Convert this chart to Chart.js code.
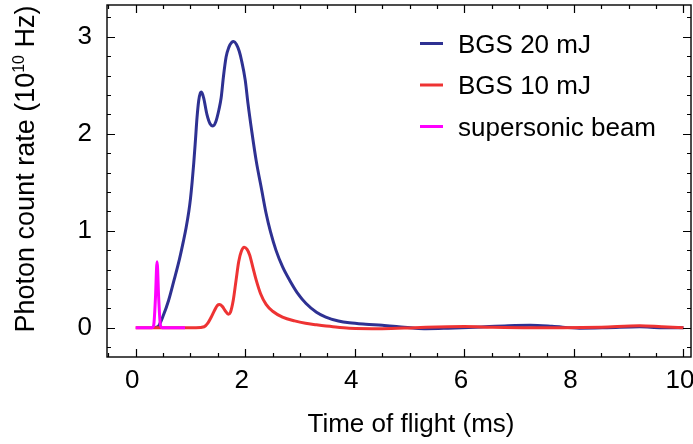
<!DOCTYPE html>
<html>
<head>
<meta charset="utf-8">
<script src="https://cdn.jsdelivr.net/npm/chart.js@4/dist/chart.umd.min.js"></script>
<style>
html,body{margin:0;padding:0;background:#fff;}
#c{display:block;}
</style>
</head>
<body>
<canvas id="c" width="693" height="444"></canvas>
<script>
// ---- data ----
const seriesLabels = ['BGS 20 mJ', 'BGS 10 mJ', 'supersonic beam'];
const seriesColors = ['#2e3192', '#ee3333', '#ff00ff'];

const time20 = [0.35, 0.42, 0.5, 0.6, 0.7, 0.8, 0.87, 0.92, 0.97, 1.0, 1.03, 1.06, 1.09, 1.12, 1.15, 1.18, 1.2, 1.24, 1.3, 1.36, 1.41, 1.46, 1.52, 1.56, 1.6, 1.65, 1.7, 1.75, 1.79, 1.84, 1.89, 1.93, 2.0, 2.05, 2.12, 2.2, 2.3, 2.38, 2.46, 2.56, 2.68, 2.81, 2.95, 3.11, 3.3, 3.47, 3.7, 3.9, 4.2, 4.5, 4.8, 5.1, 5.3, 5.7, 6.2, 6.8, 7.2, 7.6, 8.1, 8.6, 9.2, 9.6, 10.0];
const rate20 = [0, 0.02, 0.12, 0.28, 0.49, 0.71, 0.89, 1.03, 1.2, 1.33, 1.5, 1.7, 1.93, 2.17, 2.34, 2.42, 2.43, 2.37, 2.2, 2.1, 2.08, 2.12, 2.25, 2.37, 2.58, 2.79, 2.89, 2.94, 2.95, 2.92, 2.85, 2.76, 2.55, 2.31, 2.02, 1.72, 1.42, 1.18, 0.99, 0.8, 0.63, 0.49, 0.36, 0.25, 0.16, 0.11, 0.07, 0.05, 0.035, 0.025, 0.01, -0.005, -0.01, -0.005, 0.005, 0.02, 0.025, 0.015, -0.005, 0.0, 0.01, 0.0, 0.0];

const time10 = [0, 1.1, 1.25, 1.32, 1.38, 1.44, 1.49, 1.53, 1.58, 1.64, 1.69, 1.73, 1.78, 1.83, 1.88, 1.93, 1.98, 2.03, 2.08, 2.14, 2.2, 2.28, 2.38, 2.5, 2.68, 2.9, 3.1, 3.3, 3.6, 3.9, 4.5, 5.1, 5.7, 6.0, 6.5, 7.2, 7.8, 8.5, 9.2, 9.6, 10.0];
const rate10 = [0, 0, 0.01, 0.05, 0.11, 0.18, 0.23, 0.24, 0.22, 0.17, 0.14, 0.16, 0.28, 0.48, 0.68, 0.79, 0.83, 0.81, 0.75, 0.62, 0.49, 0.35, 0.24, 0.17, 0.11, 0.07, 0.045, 0.03, 0.01, -0.005, -0.01, 0, 0.01, 0.012, 0.005, 0, 0, 0.005, 0.02, 0.01, 0];

const timeBeam = [0, 0.3, 0.33, 0.36, 0.39, 0.42, 0.45, 0.48, 0.9];
const rateBeam = [0, 0, 0.03, 0.3, 0.68, 0.3, 0.03, 0, 0];

const xTickValues = [0, 2, 4, 6, 8, 10];
const yTickValues = [0, 1, 2, 3];
const xTitle = 'Time of flight (ms)';
const yTitleMain = 'Photon count rate (10';
const yTitleSup = '10';
const yTitleEnd = ' Hz)';

// ---- styling ----
const FONT = "'Liberation Sans', Arial, Helvetica, sans-serif";
const xMinorStep = 0.5, yMinorStep = 0.2;

const toPoints = (xs, ys) => xs.map((x, i) => ({x: x, y: ys[i]}));

const frameTicks = {
  id: 'frameTicks',
  afterDatasetsDraw(chart) {
    const {ctx, chartArea: a, scales: {x, y}} = chart;
    ctx.save();
    ctx.strokeStyle = '#000';
    ctx.lineWidth = 1.4;
    ctx.strokeRect(a.left, a.top, a.right - a.left, a.bottom - a.top);
    ctx.lineWidth = 1.2;
    const nx = Math.round((x.max - x.min) / xMinorStep) + 2;
    for (let k = -2; k < nx; k++) {
      const v = k * xMinorStep;
      if (v < x.min || v > x.max) continue;
      const p = Math.round(x.getPixelForValue(v)) + 0.5;
      const major = Math.abs(v / 2 - Math.round(v / 2)) < 1e-6;
      const len = major ? 8 : 4;
      ctx.beginPath();
      ctx.moveTo(p, a.bottom); ctx.lineTo(p, a.bottom - len);
      ctx.moveTo(p, a.top); ctx.lineTo(p, a.top + len);
      ctx.stroke();
    }
    const ny = Math.round((y.max - y.min) / yMinorStep) + 4;
    for (let k = -3; k < ny; k++) {
      const v = k * yMinorStep;
      if (v < y.min || v > y.max) continue;
      const p = Math.round(y.getPixelForValue(v)) + 0.5;
      const major = Math.abs(v - Math.round(v)) < 1e-6;
      const len = major ? 8 : 4;
      ctx.beginPath();
      ctx.moveTo(a.left, p); ctx.lineTo(a.left + len, p);
      ctx.moveTo(a.right, p); ctx.lineTo(a.right - len, p);
      ctx.stroke();
    }
    ctx.restore();
  }
};

const legendBox = {
  id: 'legendBox',
  afterDraw(chart) {
    const {ctx} = chart;
    ctx.save();
    ctx.font = '26px ' + FONT;
    ctx.textAlign = 'left';
    ctx.textBaseline = 'alphabetic';
    chart.data.datasets.forEach((ds, i) => {
      const cy = 43.5 + i * 41.5;
      ctx.strokeStyle = ds.borderColor;
      ctx.lineWidth = 3;
      ctx.beginPath();
      ctx.moveTo(420, cy); ctx.lineTo(443, cy);
      ctx.stroke();
      ctx.fillStyle = '#000';
      ctx.fillText(ds.label, 458, cy + 9.3);
    });
    ctx.restore();
  }
};

const axisTitles = {
  id: 'axisTitles',
  afterDraw(chart) {
    const {ctx} = chart;
    ctx.save();
    ctx.fillStyle = '#000';
    ctx.textBaseline = 'alphabetic';
    // x title
    ctx.font = '26px ' + FONT;
    ctx.textAlign = 'center';
    ctx.fillText(xTitle, 411, 432);
    // y title with superscript
    ctx.textAlign = 'left';
    const big = '27px ' + FONT, small = '16px ' + FONT;
    ctx.font = big;
    const w1 = ctx.measureText(yTitleMain).width;
    const w3 = ctx.measureText(yTitleEnd).width;
    ctx.font = small;
    const w2 = ctx.measureText(yTitleSup).width;
    const total = w1 + w2 + w3;
    ctx.translate(34, 169);
    ctx.rotate(-Math.PI / 2);
    const x0 = -total / 2;
    ctx.font = big;
    ctx.fillText(yTitleMain, x0, 0);
    ctx.font = small;
    ctx.fillText(yTitleSup, x0 + w1, -10);
    ctx.font = big;
    ctx.fillText(yTitleEnd, x0 + w1 + w2, 0);
    ctx.restore();
  }
};

new Chart(document.getElementById('c'), {
  type: 'line',
  data: {
    datasets: [
      {label: seriesLabels[0], data: toPoints(time20, rate20), borderColor: seriesColors[0], order: 3},
      {label: seriesLabels[1], data: toPoints(time10, rate10), borderColor: seriesColors[1], order: 2},
      {label: seriesLabels[2], data: toPoints(timeBeam, rateBeam), borderColor: seriesColors[2], order: 1}
    ]
  },
  options: {
    responsive: false,
    animation: false,
    devicePixelRatio: 1,
    layout: {padding: {top: 5, right: 2, left: 0, bottom: 0}},
    plugins: {legend: {display: false}, tooltip: {enabled: false}},
    elements: {
      point: {radius: 0},
      line: {borderWidth: 3, cubicInterpolationMode: 'monotone', fill: false}
    },
    scales: {
      x: {
        type: 'linear',
        min: -0.524, max: 10.137,
        afterBuildTicks: s => { s.ticks = xTickValues.map(v => ({value: v})); },
        afterFit: s => { s.height = 87; s.paddingLeft = 0; s.paddingRight = 0; },
        grid: {display: false, drawTicks: false},
        border: {display: false},
        ticks: {color: '#000', font: {family: FONT, size: 26}, padding: 8, labelOffset: -3.5, maxRotation: 0, autoSkip: false},
        title: {display: false, text: xTitle}
      },
      y: {
        type: 'linear',
        min: -0.302, max: 3.327,
        afterBuildTicks: s => { s.ticks = yTickValues.map(v => ({value: v})); },
        afterFit: s => { s.width = 107; s.paddingTop = 0; s.paddingBottom = 0; },
        grid: {display: false, drawTicks: false},
        border: {display: false},
        ticks: {color: '#000', font: {family: FONT, size: 26}, padding: 15, autoSkip: false}
      }
    }
  },
  plugins: [frameTicks, legendBox, axisTitles]
});
</script>
</body>
</html>
